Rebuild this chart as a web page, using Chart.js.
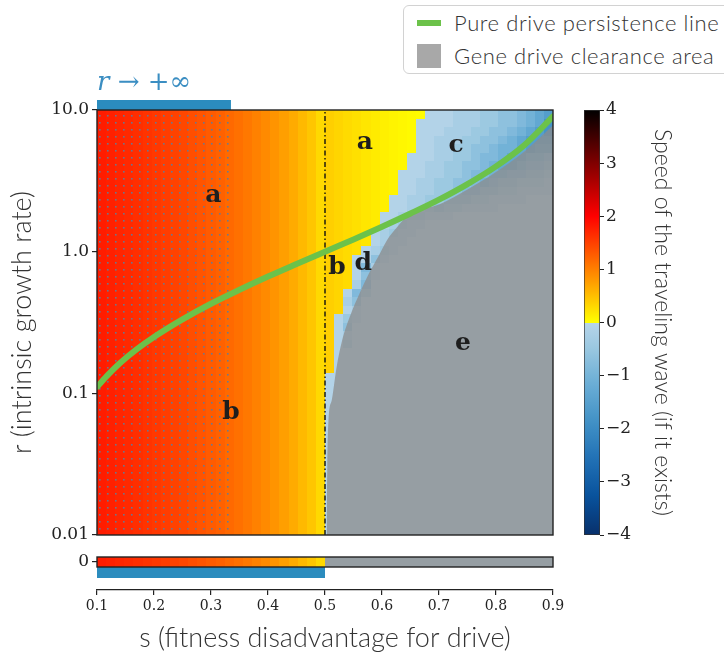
<!DOCTYPE html>
<html>
<head>
<meta charset="utf-8">
<title>Speed of the traveling wave</title>
<script src="https://cdn.jsdelivr.net/npm/chart.js@4.4.1/dist/chart.umd.min.js"></script>
<style>
  html, body { margin: 0; padding: 0; background: #fff; overflow: hidden; }
  #wrap { position: relative; width: 724px; height: 660px; overflow: hidden; }
  #wrap canvas { position: absolute; }
  #legend {
    position: absolute; left: 403px; top: 5px; width: 340px; height: 67px;
    border: 1.5px solid #d2d2d2; border-radius: 6px; background: #fff;
    font-family: Lato, "Open Sans", sans-serif; font-weight: 300; font-size: 22px;
    letter-spacing: 0.6px; color: #333;
  }
  #legend .item { display: flex; align-items: center; height: 33px; padding-left: 13px; white-space: nowrap; }
  #legend .swatch { display: inline-block; width: 24px; margin-right: 13px; flex: none; }
  #legend .line { height: 6px; }
  #legend .area { height: 24px; }
</style>
</head>
<body>
<div id="wrap">
  <canvas id="mainChart" width="724" height="550" style="left:0;top:0"></canvas>
  <canvas id="zeroChart" width="724" height="120" style="left:0;top:540px"></canvas>
  <canvas id="barChart" width="164" height="660" style="left:560px;top:0"></canvas>
  <div id="legend"></div>
</div>
<script>
// ---- values ----

// column edges in s, and row edges in log10(r) (top row first)
const sBins = [0.100,0.116,0.132,0.148,0.164,0.180,0.196,0.212,0.228,0.244,
  0.260,0.276,0.292,0.308,0.324,0.340,0.356,0.372,0.388,0.404,
  0.420,0.436,0.452,0.468,0.484,0.500,0.516,0.532,0.548,0.564,
  0.580,0.596,0.612,0.628,0.644,0.660,0.676,0.692,0.708,0.724,
  0.740,0.756,0.772,0.788,0.804,0.820,0.836,0.852,0.868,0.884,0.900];
const logRBins = [1.00,0.94,0.88,0.82,0.76,0.70,0.64,0.58,0.52,0.46,
  0.40,0.34,0.28,0.22,0.16,0.10,0.04,-0.02,-0.08,-0.14,
  -0.20,-0.26,-0.32,-0.38,-0.44,-0.50,-0.56,-0.62,-0.68,-0.74,
  -0.80,-0.86,-0.92,-0.98,-1.04,-1.10,-1.16,-1.22,-1.28,-1.34,
  -1.40,-1.46,-1.52,-1.58,-1.64,-1.70,-1.76,-1.82,-1.88,-1.94,-2.00];

// positive wave speed per column (the red/yellow part)
const posSpeed = [1.78,1.75,1.71,1.68,1.64,1.60,1.56,1.52,1.48,1.44,
  1.39,1.34,1.29,1.24,1.18,1.12,1.06,0.99,0.92,0.84,
  0.75,0.66,0.55,0.45,0.30,0.38,0.33,0.28,0.24,0.20,
  0.16,0.12,0.09,0.06,0.04,0.02,null,null,null,null,
  null,null,null,null,null,null,null,null,null,null];

// first column with a negative speed, per row (top row first)
const posEndByRow = [36,35,35,35,35,34,34,33,33,33,
  32,32,31,31,30,30,29,28,28,28,
  28,27,27,27,26,26,26,26,26,26,
  26,25,25,25,25,25,25,25,25,25,
  25,25,25,25,25,25,25,25,25,25];

// negative speed level of each cell from that column on (missing = level 0)
const negTails = [
  "00011122334567", "000011122334568", "000111223345678", "001112233456777",
  "001122334556766", "0001122344566554", "0011223345665443", "00011223445544332",
  "00112233454332221", "00112234433221111", "001122333221111000", "001123221111000000",
  "0012211100000000000", "0121100000000000000", "01211", "0111",
  "0121", "0031", "041", "031", "14", "042", "13", "01", "021", "03", "01", "02",
  "", "", "", "", "", "", "", "", "", "", "", "", "", "", "", "", "", "", "", "", "", ""
];
const negLevels = [-0.05, -0.25, -0.45, -0.65, -0.85, -1.05, -1.3, -1.55, -1.8, -2.1];

// r = 0 row underneath the main panel
const zeroPosEnd = [25];
const zeroTails = [""];
const zeroClear = [0.5, 0.9];
const zeroBand = [0.1, 0.5];

// pure drive persistence line
const persistS = [0.10,0.12,0.14,0.17,0.20,0.25,0.30,0.35,0.40,0.45,0.50,0.55,0.60,0.65,0.70,0.75,0.80,0.85,0.90];
const persistR = [0.111,0.136,0.163,0.205,0.250,0.333,0.429,0.538,0.667,0.818,1.00,1.22,1.50,1.86,2.33,3.00,4.00,5.67,9.00];

// edge of the gene drive clearance area
const clearS = [0.503,0.504,0.506,0.512,0.520,0.530,0.545,0.560,0.577,0.593,0.609,0.626,0.649,0.700,0.750,0.800,0.850,0.900];
const clearR = [0.010,0.030,0.063,0.090,0.150,0.236,0.360,0.500,0.700,0.916,1.21,1.48,1.85,2.15,2.75,3.65,5.10,7.80];

const driveThreshold = 0.5;
const infinityBand = [0.1, 0.335];

const rTicks = [0.01, 0.1, 1, 10];
const rTickLabels = ['0.01', '0.1', '1.0', '10.0'];
const sTicks = [0.1, 0.2, 0.3, 0.4, 0.5, 0.6, 0.7, 0.8, 0.9];
const speedRange = [-4, 4];

const regionLabels = [
  ['a', 0.304, 2.51], ['b', 0.335, 0.073], ['a', 0.570, 5.9], ['c', 0.730, 5.6],
  ['b', 0.521, 0.77], ['d', 0.567, 0.83], ['e', 0.742, 0.226]
];

// ---- styling ----
const GREEN = '#6cc24a';
const CLEAR_GRAY = 'rgba(141,141,141,0.76)';
const BAND_BLUE = '#2b8cbe';
const SERIF = '"DejaVu Serif", "Liberation Serif", serif';
const SANS = 'Lato, "Open Sans", sans-serif';
const INK = '#222';

const bluesStops = [
  [0.25, [198, 219, 239]], [0.375, [158, 202, 225]], [0.5, [107, 174, 214]],
  [0.625, [66, 146, 198]], [0.75, [33, 113, 181]], [0.875, [8, 81, 156]], [1.0, [8, 48, 107]]
];

function blues(t) {
  for (let i = 1; i < bluesStops.length; i++) {
    const [t1, c1] = bluesStops[i];
    if (t <= t1) {
      const [t0, c0] = bluesStops[i - 1];
      const f = (t - t0) / (t1 - t0);
      return c0.map((c, j) => Math.round(c + (c1[j] - c) * f));
    }
  }
  return bluesStops[bluesStops.length - 1][1];
}

// yellow-red-black above zero, blues below
function speedColor(v) {
  if (v >= 0) {
    const u = Math.min(v, 4);
    return u <= 2 ? `rgb(255,${Math.round(255 * (1 - u / 2))},0)`
                  : `rgb(${Math.round(255 * (4 - u) / 2)},0,0)`;
  }
  const [r, g, b] = blues(0.3 + 0.7 * Math.min(-v, 4) / 4);
  return `rgb(${r},${g},${b})`;
}

function cellSpeed(posEnd, tail, i) {
  if (i < posEnd) return posSpeed[i];
  const c = tail[i - posEnd];
  return negLevels[c === undefined ? 0 : Number(c)];
}

function dotPattern(ctx) {
  const c = document.createElement('canvas');
  c.width = 8; c.height = 7;
  const p = c.getContext('2d');
  p.fillStyle = 'rgba(100,122,150,0.95)';
  p.fillRect(3, 3, 1.6, 1.6);
  return ctx.createPattern(c, 'repeat');
}

const speedMap = {
  id: 'speedMap',
  beforeDatasetsDraw(chart, args, o) {
    const { ctx, chartArea: a, scales: { x, y } } = chart;
    ctx.save();
    ctx.beginPath();
    ctx.rect(a.left, a.top, a.width, a.height);
    ctx.clip();
    o.rows.forEach(([hi, lo], k) => {
      const y0 = Math.round(y.getPixelForValue(hi));
      const y1 = Math.round(y.getPixelForValue(lo));
      for (let i = 0; i < sBins.length - 1; i++) {
        const x0 = Math.round(x.getPixelForValue(sBins[i]));
        const x1 = Math.round(x.getPixelForValue(sBins[i + 1]));
        ctx.fillStyle = speedColor(cellSpeed(o.posEnd[k], o.tails[k], i));
        ctx.fillRect(x0, y0, x1 - x0, y1 - y0);
      }
    });
    if (o.hatch) {
      const hx0 = x.getPixelForValue(o.hatch[0]);
      const hx1 = x.getPixelForValue(o.hatch[1]);
      ctx.fillStyle = dotPattern(ctx);
      ctx.fillRect(hx0, a.top, hx1 - hx0, a.height);
    }
    ctx.restore();
  },
  afterDatasetsDraw(chart, args, o) {
    const { ctx, chartArea: a, scales: { x, y } } = chart;
    ctx.save();
    ctx.font = `bold 25px ${SERIF}`;
    ctx.fillStyle = '#1e1e1e';
    ctx.textAlign = 'center';
    ctx.textBaseline = 'middle';
    (o.labels || []).forEach(([t, s, r]) => {
      ctx.fillText(t, x.getPixelForValue(s), y.getPixelForValue(r));
    });

    const fx0 = x.getPixelForValue(sBins[0]);
    const fx1 = x.getPixelForValue(sBins[sBins.length - 1]);
    const fy0 = y.getPixelForValue(o.frame[0]);
    const fy1 = y.getPixelForValue(o.frame[1]);

    if (o.topBand) {
      const bx0 = x.getPixelForValue(o.topBand[0]);
      const bx1 = x.getPixelForValue(o.topBand[1]);
      ctx.fillStyle = BAND_BLUE;
      ctx.fillRect(bx0, a.top - 10, bx1 - bx0, 10);
      ctx.fillStyle = '#3b8ec2';
      ctx.textAlign = 'left';
      ctx.textBaseline = 'middle';
      ctx.font = `italic 26px ${SERIF}`;
      ctx.fillText('r', bx0, a.top - 27);
      const w = ctx.measureText('r').width;
      ctx.font = `26px ${SERIF}`;
      ctx.fillText(' \u2192 +\u221E', bx0 + w, a.top - 27);
    }

    ctx.strokeStyle = INK;
    ctx.lineWidth = 1.4;
    ctx.strokeRect(fx0, fy0, fx1 - fx0, fy1 - fy0);
    ctx.restore();
  }
};

const htmlLegend = {
  id: 'htmlLegend',
  afterUpdate(chart) {
    const box = document.getElementById('legend');
    box.innerHTML = '';
    chart.data.datasets.forEach(ds => {
      if (!ds.label) return;
      const row = document.createElement('div');
      row.className = 'item';
      const sw = document.createElement('span');
      sw.className = ds.fill ? 'swatch area' : 'swatch line';
      sw.style.background = ds.fill ? ds.backgroundColor : ds.borderColor;
      const tx = document.createElement('span');
      tx.textContent = ds.label;
      row.append(sw, tx);
      box.append(row);
    });
  }
};

const tickFont = { family: SERIF, size: 17 };
const titleFont = { family: SANS, size: 27, weight: 300 };

// main panel: s vs log r
new Chart(document.getElementById('mainChart'), {
  type: 'line',
  data: {
    datasets: [
      {
        label: 'Pure drive persistence line',
        data: persistS.map((s, i) => ({ x: s, y: persistR[i] })),
        borderColor: GREEN,
        borderWidth: 6,
        borderCapStyle: 'round',
        borderJoinStyle: 'round',
        pointRadius: 0,
        cubicInterpolationMode: 'monotone',
        order: 0
      },
      {
        label: 'Gene drive clearance area',
        data: clearS.map((s, i) => ({ x: s, y: clearR[i] })),
        borderColor: 'transparent',
        borderWidth: 0,
        backgroundColor: CLEAR_GRAY,
        fill: 'start',
        pointRadius: 0,
        cubicInterpolationMode: 'monotone',
        order: 2
      },
      {
        label: '',
        data: [{ x: driveThreshold, y: rTicks[0] }, { x: driveThreshold, y: rTicks[rTicks.length - 1] }],
        borderColor: '#111',
        borderWidth: 1.4,
        borderDash: [5, 2.5, 1.5, 2.5],
        pointRadius: 0,
        order: 1
      }
    ]
  },
  options: {
    responsive: false,
    animation: false,
    events: [],
    layout: { padding: { left: 0, top: 110, right: 171, bottom: 15 } },
    plugins: {
      legend: { display: false },
      tooltip: { enabled: false },
      speedMap: {
        rows: logRBins.slice(0, -1).map((v, k) => [Math.pow(10, v), Math.pow(10, logRBins[k + 1])]),
        posEnd: posEndByRow,
        tails: negTails,
        hatch: infinityBand,
        labels: regionLabels,
        topBand: infinityBand,
        frame: [rTicks[rTicks.length - 1], rTicks[0]]
      }
    },
    scales: {
      x: { type: 'linear', display: false, min: sTicks[0], max: sTicks[sTicks.length - 1] },
      y: {
        type: 'logarithmic',
        min: rTicks[0],
        max: rTicks[rTicks.length - 1],
        afterBuildTicks(scale) { scale.ticks = rTicks.map(v => ({ value: v })); },
        afterFit(scale) { scale.width = 97; },
        ticks: { callback: (v, i) => rTickLabels[i], font: tickFont, color: INK, padding: 3, autoSkip: false },
        grid: { drawOnChartArea: false, tickLength: 5, color: INK, lineWidth: 1.2 },
        border: { display: false },
        title: { display: true, text: 'r (intrinsic growth rate)', font: titleFont, color: '#333', padding: { top: 6, bottom: 0 } }
      }
    }
  },
  plugins: [speedMap, htmlLegend]
});

// r = 0 strip and the s axis
new Chart(document.getElementById('zeroChart'), {
  type: 'line',
  data: {
    datasets: [
      {
        label: '',
        data: zeroClear.map(s => ({ x: s, y: 0.5 })),
        fill: { value: -0.5 },
        backgroundColor: CLEAR_GRAY,
        borderColor: 'transparent',
        borderWidth: 0,
        pointRadius: 0
      },
      {
        label: '',
        data: zeroBand.map(s => ({ x: s, y: -0.5 })),
        fill: { value: -1.6 },
        backgroundColor: BAND_BLUE,
        borderColor: 'transparent',
        borderWidth: 0,
        pointRadius: 0
      }
    ]
  },
  options: {
    responsive: false,
    animation: false,
    events: [],
    layout: { padding: { left: 0, top: 17, right: 171, bottom: 0 } },
    plugins: {
      legend: { display: false },
      tooltip: { enabled: false },
      speedMap: { rows: [[0.5, -0.5]], posEnd: zeroPosEnd, tails: zeroTails, frame: [0.5, -0.5] }
    },
    scales: {
      x: {
        type: 'linear',
        min: sTicks[0],
        max: sTicks[sTicks.length - 1],
        afterBuildTicks(scale) { scale.ticks = sTicks.map(v => ({ value: v })); },
        afterFit(scale) { scale.height = 70; },
        ticks: { callback: v => v.toFixed(1), font: { family: SERIF, size: 14 }, color: INK, padding: 3, autoSkip: false, maxRotation: 0 },
        grid: { drawOnChartArea: false, tickLength: 5, color: INK, lineWidth: 1.2 },
        border: { display: true, color: INK, width: 1.2 },
        title: { display: true, text: 's (fitness disadvantage for drive)', font: titleFont, color: '#333', padding: { top: 0, bottom: 6 } }
      },
      y: {
        type: 'linear',
        min: -2.8,
        max: 0.5,
        afterBuildTicks(scale) { scale.ticks = [{ value: 0 }]; },
        afterFit(scale) { scale.width = 97; },
        ticks: { callback: () => '0', font: tickFont, color: INK, padding: 3 },
        grid: { drawOnChartArea: false, tickLength: 5, color: INK, lineWidth: 1.2 },
        border: { display: false }
      }
    }
  },
  plugins: [speedMap]
});

// colour bar
new Chart(document.getElementById('barChart'), {
  type: 'bar',
  data: {
    labels: ['speed'],
    datasets: [{
      data: [speedRange],
      backgroundColor(context) {
        const { chart } = context;
        if (!chart.chartArea) return null;
        const y = chart.scales.y;
        const g = chart.ctx.createLinearGradient(0, y.getPixelForValue(speedRange[1]), 0, y.getPixelForValue(speedRange[0]));
        const span = speedRange[1] - speedRange[0];
        for (let v = speedRange[1]; v >= speedRange[0]; v -= 0.25) {
          const pos = (speedRange[1] - v) / span;
          if (v === 0) {
            g.addColorStop(pos, speedColor(0));
            g.addColorStop(pos, speedColor(-0.0001));
          } else {
            g.addColorStop(pos, speedColor(v));
          }
        }
        return g;
      },
      borderColor: '#333',
      borderWidth: 1,
      borderSkipped: false,
      barPercentage: 1,
      categoryPercentage: 1
    }]
  },
  options: {
    responsive: false,
    animation: false,
    events: [],
    layout: { padding: { left: 24, right: 48, top: 110, bottom: 125 } },
    plugins: { legend: { display: false }, tooltip: { enabled: false } },
    scales: {
      x: { display: false },
      y: {
        position: 'right',
        min: speedRange[0],
        max: speedRange[1],
        afterFit(scale) { scale.width = 76; },
        ticks: { stepSize: 1, callback: v => (v < 0 ? '\u2212' + Math.abs(v) : String(v)), font: tickFont, color: INK, padding: 2 },
        grid: { drawOnChartArea: false, tickLength: 4, color: INK },
        border: { display: false },
        title: { display: true, text: 'Speed of the traveling wave (if it exists)', font: { family: SANS, size: 23, weight: 300 }, color: '#333', padding: { top: 0, bottom: 0 } }
      }
    }
  }
});
</script>
</body>
</html>
